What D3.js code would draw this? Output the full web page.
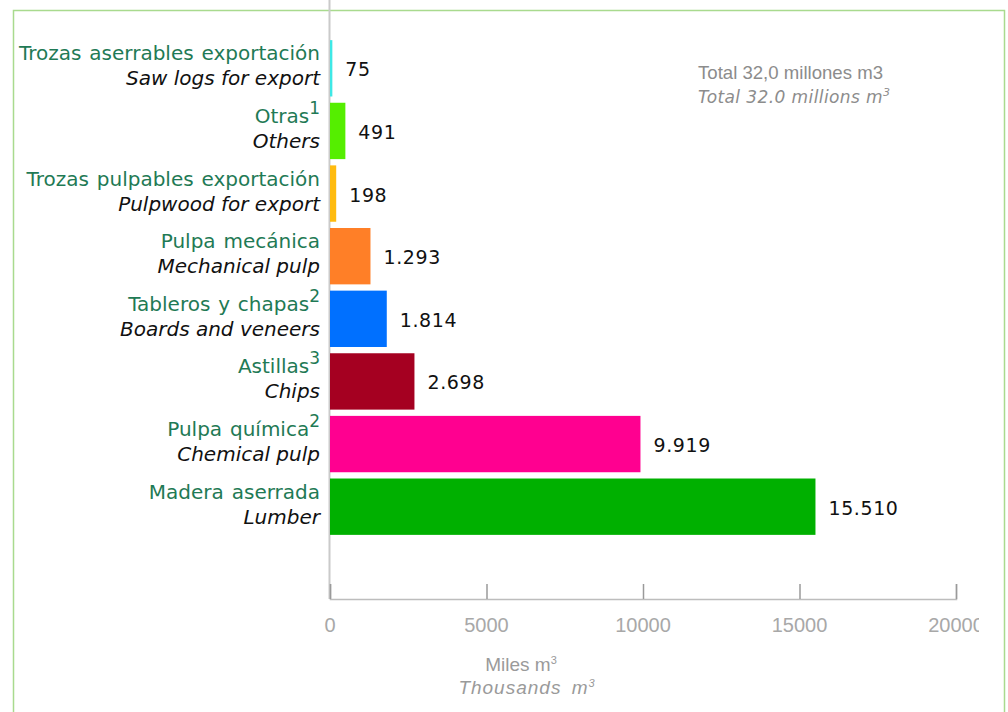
<!DOCTYPE html>
<html>
<head>
<meta charset="utf-8">
<script src="https://cdn.jsdelivr.net/npm/d3@7/dist/d3.min.js"></script>
<style>
  html, body { margin: 0; padding: 0; background: #ffffff; }
  svg { display: block; }
</style>
</head>
<body>
<svg id="chart" width="1008" height="712"></svg>
<script>
// Spanish category names, English translations and footnote markers (top to bottom)
const namesEs = ["Trozas aserrables exportación", "Otras", "Trozas pulpables exportación",
  "Pulpa mecánica", "Tableros y chapas", "Astillas", "Pulpa química", "Madera aserrada"];
const namesEn = ["Saw logs for export", "Others", "Pulpwood for export", "Mechanical pulp",
  "Boards and veneers", "Chips", "Chemical pulp", "Lumber"];
const notes = ["", "1", "", "", "2", "3", "2", ""];
// Volumes in thousand m3
const values = [75, 491, 198, 1293, 1814, 2698, 9919, 15510];
const barColors = ["#3ee8e6", "#55ee00", "#ffbb0f", "#ff7f27", "#0070ff", "#a50021", "#ff0090", "#00b000"];
const tickValues = [0, 5000, 10000, 15000, 20000];

const svg = d3.select("#chart");
const labelGreen = "#1f7a55";

const x = d3.scaleLinear().domain([0, 20000]).range([330, 956]);
const y = d3.scaleBand().domain(d3.range(values.length)).range([37, 538])
  .paddingInner(0.1).paddingOuter(0.05);

const fmt = d3.formatLocale({ decimal: ",", thousands: ".", grouping: [3], currency: ["", ""] }).format(",d");

// outer frame
svg.append("rect")
  .attr("x", 13.5).attr("y", 10.5).attr("width", 991).attr("height", 740)
  .attr("fill", "none").attr("stroke", "#a9da8e").attr("stroke-width", 1.5);

// vertical axis line (bars are drawn over it)
svg.append("line")
  .attr("x1", x(0) - 0.5).attr("x2", x(0) - 0.5).attr("y1", 0).attr("y2", 599)
  .attr("stroke", "#cacaca").attr("stroke-width", 2);

// bars
svg.append("g").selectAll("rect").data(values).join("rect")
  .attr("x", x(0))
  .attr("y", (d, i) => y(i))
  .attr("width", d => x(d) - x(0))
  .attr("height", y.bandwidth())
  .attr("fill", (d, i) => barColors[i]);

// horizontal axis
svg.append("defs").append("clipPath").attr("id", "tickclip")
  .append("rect").attr("x", 0).attr("y", 0).attr("width", 979).attr("height", 712);

const xAxis = svg.append("g")
  .attr("transform", "translate(0,599)")
  .call(d3.axisTop(x).tickValues(tickValues).tickSize(15).tickFormat(""));
xAxis.select(".domain").attr("stroke", "#bdbdbd").attr("stroke-width", 1.5);
xAxis.selectAll(".tick line").attr("stroke", "#9a9a9a").attr("stroke-width", 1.5);

svg.append("g").attr("clip-path", "url(#tickclip)")
  .selectAll("text").data(tickValues).join("text")
  .attr("x", d => x(d)).attr("y", 632)
  .attr("text-anchor", "middle")
  .attr("font-family", "'Liberation Sans', Arial, sans-serif")
  .attr("font-size", 20)
  .attr("fill", "#a8a8a8")
  .text(d => d);

// category labels
const cat = svg.append("g").attr("font-family", "'DejaVu Sans', Verdana, sans-serif")
  .attr("font-size", 20);
namesEs.forEach((name, i) => {
  const cy = y(i) + y.bandwidth() / 2;
  const t = cat.append("text")
    .attr("x", 320).attr("y", cy - 8)
    .attr("text-anchor", "end")
    .attr("word-spacing", 1.5)
    .attr("fill", labelGreen);
  t.append("tspan").text(name);
  if (notes[i]) {
    t.append("tspan").attr("dy", -9).attr("font-size", 17).text(notes[i]);
  }
  cat.append("text")
    .attr("x", 320).attr("y", cy + 17)
    .attr("text-anchor", "end")
    .attr("font-style", "italic")
    .attr("fill", "#111")
    .text(namesEn[i]);
});

// value labels
svg.append("g").selectAll("text").data(values).join("text")
  .attr("x", d => x(d) + 13)
  .attr("y", (d, i) => y(i) + y.bandwidth() / 2 + 8)
  .attr("font-family", "'DejaVu Sans', Verdana, sans-serif")
  .attr("font-size", 19)
  .attr("letter-spacing", 0.6)
  .attr("fill", "#111")
  .text(d => fmt(d));

// total note
const total = svg.append("g").attr("fill", "#8c8c8c");
total.append("text").attr("x", 698).attr("y", 79)
  .attr("font-family", "'Liberation Sans', Arial, sans-serif").attr("font-size", 18.6)
  .text("Total 32,0 millones m3");
const t2 = total.append("text").attr("x", 698).attr("y", 103)
  .attr("font-family", "'DejaVu Sans', Verdana, sans-serif").attr("font-size", 17)
  .attr("letter-spacing", 0.4).attr("font-style", "italic");
t2.append("tspan").text("Total 32.0 millions m");
t2.append("tspan").attr("dy", -7).attr("font-size", 11).text("3");

// axis title
const ax = svg.append("g").attr("font-family", "'Liberation Sans', Arial, sans-serif")
  .attr("fill", "#9a9a9a").attr("text-anchor", "middle");
const a1 = ax.append("text").attr("x", 521).attr("y", 671).attr("font-size", 19);
a1.append("tspan").text("Miles m");
a1.append("tspan").attr("dy", -7).attr("font-size", 11).text("3");
const a2 = ax.append("text").attr("x", 527).attr("y", 694).attr("font-size", 19)
  .attr("font-style", "italic").attr("letter-spacing", 1).attr("word-spacing", 4);
a2.append("tspan").text("Thousands m");
a2.append("tspan").attr("dy", -7).attr("font-size", 11).text("3");
</script>
</body>
</html>
